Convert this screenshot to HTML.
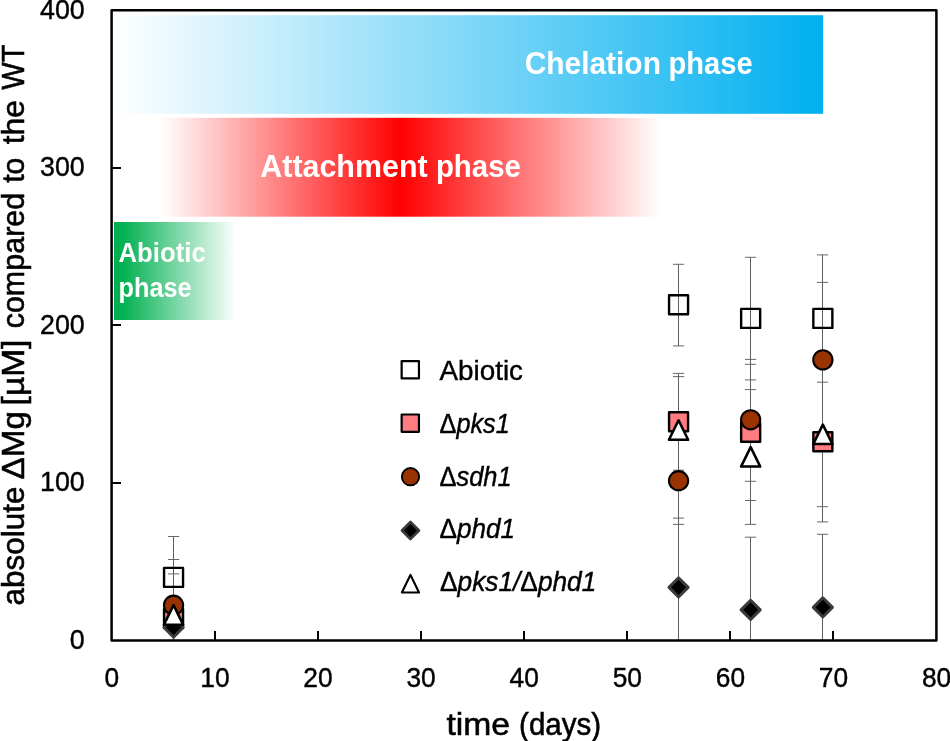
<!DOCTYPE html>
<html lang="en"><head><meta charset="utf-8"><title>Mg release phases</title>
<style>html,body{margin:0;padding:0;background:#fff;overflow:hidden}svg{display:block;will-change:transform}text{font-family:"Liberation Sans",sans-serif;fill:#000;stroke:#000;stroke-width:.4px}.t{stroke-width:.55px}.b{font-weight:bold;fill:#fff;stroke:none}.i{font-style:italic}</style></head><body>
<svg width="950" height="741" viewBox="0 0 950 741">
<defs>
<linearGradient id="gb" x1="0" x2="1" y1="0" y2="0"><stop offset="0" stop-color="#ffffff"/><stop offset="1" stop-color="#00b0f0"/></linearGradient>
<linearGradient id="gr" x1="0" x2="1" y1="0" y2="0"><stop offset="0" stop-color="#ffffff"/><stop offset="0.479" stop-color="#ff0000"/><stop offset="1" stop-color="#ffffff"/></linearGradient>
<linearGradient id="gg" x1="0" x2="1" y1="0" y2="0"><stop offset="0.06" stop-color="#00b050"/><stop offset="1" stop-color="#ffffff"/></linearGradient>
<clipPath id="cp"><rect x="111.6" y="10.3" width="824.8" height="630.1"/></clipPath>
</defs>
<rect width="950" height="741" fill="#fff"/>
<rect x="112.8" y="15.2" width="710.3" height="98.6" fill="url(#gb)"/>
<rect x="161" y="117.8" width="500" height="98.9" fill="url(#gr)"/>
<rect x="114" y="222" width="122" height="98" fill="url(#gg)"/>
<text class="b" font-size="31.6"><tspan x="524.65" y="74.1" textLength="136.28" lengthAdjust="spacingAndGlyphs">Chelation</tspan> <tspan x="668.4" y="74.1" textLength="84.22" lengthAdjust="spacingAndGlyphs">phase</tspan></text>
<text class="b" font-size="31.6"><tspan x="260.3" y="177" textLength="167.31" lengthAdjust="spacingAndGlyphs">Attachment</tspan> <tspan x="435.9" y="177" textLength="84.95" lengthAdjust="spacingAndGlyphs">phase</tspan></text>
<text class="b" font-size="27.1"><tspan x="118.5" y="261.9" textLength="87.24" lengthAdjust="spacingAndGlyphs">Abiotic</tspan> <tspan x="118.6" y="297.1" textLength="73.03" lengthAdjust="spacingAndGlyphs">phase</tspan></text>
<g clip-path="url(#cp)" fill="none">
<path d="M173.5 536.5V660M678.5 264.3V345.9M678.5 373.4V660M750.5 257.3V524.4M750.5 537.2V690M822.5 254.9V521.9M822.5 534.3V690" stroke="#606060" stroke-width="1"/>
<path d="M168 536.5H179.2M168 617.7H179.2M168 559.5H179.2M168 660H179.2M168 573.9H179.2M168 660H179.2M673 264.3H684.2M673 345.9H684.2M673 373.4H684.2M673 470.2H684.2M673 376.6H684.2M673 483.4H684.2M673 437H684.2M673 524.4H684.2M673 518.1H684.2M673 660H684.2M745 257.3H756.2M745 379.9H756.2M745 359.4H756.2M745 481.3H756.2M745 364.3H756.2M745 500.5H756.2M745 389.6H756.2M745 524.4H756.2M745 537.2H756.2M745 690H756.2M817 254.9H828.2M817 382.2H828.2M817 282.4H828.2M817 437.4H828.2M817 361.7H828.2M817 521.9H828.2M817 361.3H828.2M817 506.7H828.2M817 534.3H828.2M817 690H828.2" stroke="#595959" stroke-width="0.9"/>
</g>
<rect x="164.05" y="567.9" width="19" height="19" fill="none" stroke="#000" stroke-width="2.4" stroke-linejoin="round"/>
<rect x="669.05" y="295.3" width="19" height="19" fill="none" stroke="#000" stroke-width="2.4" stroke-linejoin="round"/>
<rect x="741.15" y="308.9" width="19" height="19" fill="none" stroke="#000" stroke-width="2.4" stroke-linejoin="round"/>
<rect x="813.35" y="308.9" width="19" height="19" fill="none" stroke="#000" stroke-width="2.4" stroke-linejoin="round"/>
<rect x="164.05" y="609" width="19" height="19" fill="#ff7c80" stroke="#000" stroke-width="2.4" stroke-linejoin="round"/>
<rect x="669.05" y="412.3" width="19" height="19" fill="#ff7c80" stroke="#000" stroke-width="2.4" stroke-linejoin="round"/>
<rect x="741.15" y="422.8" width="19" height="19" fill="#ff7c80" stroke="#000" stroke-width="2.4" stroke-linejoin="round"/>
<rect x="813.35" y="432.3" width="19" height="19" fill="#ff7c80" stroke="#000" stroke-width="2.4" stroke-linejoin="round"/>
<circle cx="173.55" cy="605.2" r="9.6" fill="#993300" stroke="#000" stroke-width="2.1"/>
<circle cx="678.55" cy="480.7" r="9.6" fill="#993300" stroke="#000" stroke-width="2.1"/>
<circle cx="750.65" cy="419.8" r="9.6" fill="#993300" stroke="#000" stroke-width="2.1"/>
<circle cx="822.85" cy="359.9" r="9.6" fill="#993300" stroke="#000" stroke-width="2.1"/>
<path d="M173.55 617.9L183.15 627.5L173.55 637.1L163.95 627.5Z" fill="#000" stroke="#3b3b3b" stroke-width="2.9" stroke-linejoin="round"/>
<path d="M678.55 577.8L688.15 587.4L678.55 597L668.95 587.4Z" fill="#000" stroke="#3b3b3b" stroke-width="2.9" stroke-linejoin="round"/>
<path d="M750.65 600.3L760.25 609.9L750.65 619.5L741.05 609.9Z" fill="#000" stroke="#3b3b3b" stroke-width="2.9" stroke-linejoin="round"/>
<path d="M822.85 597.8L832.45 607.4L822.85 617L813.25 607.4Z" fill="#000" stroke="#3b3b3b" stroke-width="2.9" stroke-linejoin="round"/>
<path d="M173.55 605.17L183.15 624.67L163.95 624.67Z" fill="#fff" stroke="#000" stroke-width="2.55" stroke-linejoin="round"/>
<path d="M678.55 420.27L688.15 439.77L668.95 439.77Z" fill="#fff" stroke="#000" stroke-width="2.55" stroke-linejoin="round"/>
<path d="M750.65 447.07L760.25 466.57L741.05 466.57Z" fill="#fff" stroke="#000" stroke-width="2.55" stroke-linejoin="round"/>
<path d="M822.85 424.57L832.45 444.07L813.25 444.07Z" fill="#fff" stroke="#000" stroke-width="2.55" stroke-linejoin="round"/>
<rect x="111.6" y="10.3" width="824.8" height="630.1" fill="none" stroke="#000" stroke-width="2.5" stroke-linejoin="round"/>
<path d="M215 640.4V631M318 640.4V631M421 640.4V631M524 640.4V631M627 640.4V631M730 640.4V631M833 640.4V631M111.6 483H121M111.6 325H121M111.6 168H121" stroke="#000" stroke-width="2" fill="none"/>
<text x="69.8" y="649" font-size="26.8" textLength="14.9" lengthAdjust="spacingAndGlyphs">0</text>
<text x="40" y="491" font-size="26.8" textLength="44.7" lengthAdjust="spacingAndGlyphs">100</text>
<text x="40" y="334" font-size="26.8" textLength="44.7" lengthAdjust="spacingAndGlyphs">200</text>
<text x="40" y="176" font-size="26.8" textLength="44.7" lengthAdjust="spacingAndGlyphs">300</text>
<text x="40" y="19" font-size="26.8" textLength="44.7" lengthAdjust="spacingAndGlyphs">400</text>
<text x="104.47" y="687.2" font-size="26.8" textLength="14.65" lengthAdjust="spacingAndGlyphs">0</text>
<text x="200.25" y="687.2" font-size="26.8" textLength="29.3" lengthAdjust="spacingAndGlyphs">10</text>
<text x="303.35" y="687.2" font-size="26.8" textLength="29.3" lengthAdjust="spacingAndGlyphs">20</text>
<text x="406.45" y="687.2" font-size="26.8" textLength="29.3" lengthAdjust="spacingAndGlyphs">30</text>
<text x="509.55" y="687.2" font-size="26.8" textLength="29.3" lengthAdjust="spacingAndGlyphs">40</text>
<text x="612.65" y="687.2" font-size="26.8" textLength="29.3" lengthAdjust="spacingAndGlyphs">50</text>
<text x="715.75" y="687.2" font-size="26.8" textLength="29.3" lengthAdjust="spacingAndGlyphs">60</text>
<text x="818.85" y="687.2" font-size="26.8" textLength="29.3" lengthAdjust="spacingAndGlyphs">70</text>
<text x="921.95" y="687.2" font-size="26.8" textLength="29.3" lengthAdjust="spacingAndGlyphs">80</text>
<text class="t" font-size="31.6"><tspan x="446.5" y="734.7" textLength="63.57" lengthAdjust="spacingAndGlyphs">time</tspan> <tspan x="519.1" y="734.7" textLength="82" lengthAdjust="spacingAndGlyphs">(days)</tspan></text>
<text class="t" transform="translate(24 0) rotate(-90)" font-size="31.6"><tspan x="-605.4" textLength="118.83" lengthAdjust="spacingAndGlyphs">absolute</tspan> <tspan x="-479.5" textLength="68.5" lengthAdjust="spacingAndGlyphs">ΔMg</tspan> <tspan x="-405.4" textLength="65.8" lengthAdjust="spacingAndGlyphs">[µM]</tspan> <tspan x="-328.3" textLength="135.46" lengthAdjust="spacingAndGlyphs">compared</tspan> <tspan x="-182.8" textLength="25.24" lengthAdjust="spacingAndGlyphs">to</tspan> <tspan x="-144.3" textLength="44.32" lengthAdjust="spacingAndGlyphs">the</tspan> <tspan x="-89.7" textLength="45.14" lengthAdjust="spacingAndGlyphs">WT</tspan></text>
<rect x="401.65" y="361.1" width="17.3" height="17.3" fill="none" stroke="#000" stroke-width="2.2" stroke-linejoin="round"/>
<rect x="401.65" y="414.5" width="17.3" height="17.3" fill="#ff7c80" stroke="#000" stroke-width="2.2" stroke-linejoin="round"/>
<circle cx="410.5" cy="476.7" r="8.65" fill="#993300" stroke="#000" stroke-width="1.9"/>
<path d="M410.45 522L418.95 530.5L410.45 539L401.95 530.5Z" fill="#000" stroke="#3b3b3b" stroke-width="2.6" stroke-linejoin="round"/>
<path d="M410.45 574.88L419 592.48L401.9 592.48Z" fill="#fff" stroke="#000" stroke-width="2.15" stroke-linejoin="round"/>
<text font-size="26.8"><tspan x="439.4" y="380.2" textLength="83.61" lengthAdjust="spacingAndGlyphs">Abiotic</tspan></text>
<text font-size="26.8"><tspan x="439.5" y="432.9" textLength="70.29" lengthAdjust="spacingAndGlyphs">Δ<tspan class="i">pks1</tspan></tspan></text>
<text font-size="26.8"><tspan x="439.5" y="485.7" textLength="72.07" lengthAdjust="spacingAndGlyphs">Δ<tspan class="i">sdh1</tspan></tspan></text>
<text font-size="26.8"><tspan x="439.5" y="538.3" textLength="75.54" lengthAdjust="spacingAndGlyphs">Δ<tspan class="i">phd1</tspan></tspan></text>
<text font-size="26.8"><tspan x="440" y="591.2" textLength="156.32" lengthAdjust="spacingAndGlyphs">Δ<tspan class="i">pks1/</tspan>Δ<tspan class="i">phd1</tspan></tspan></text>
</svg></body></html>
